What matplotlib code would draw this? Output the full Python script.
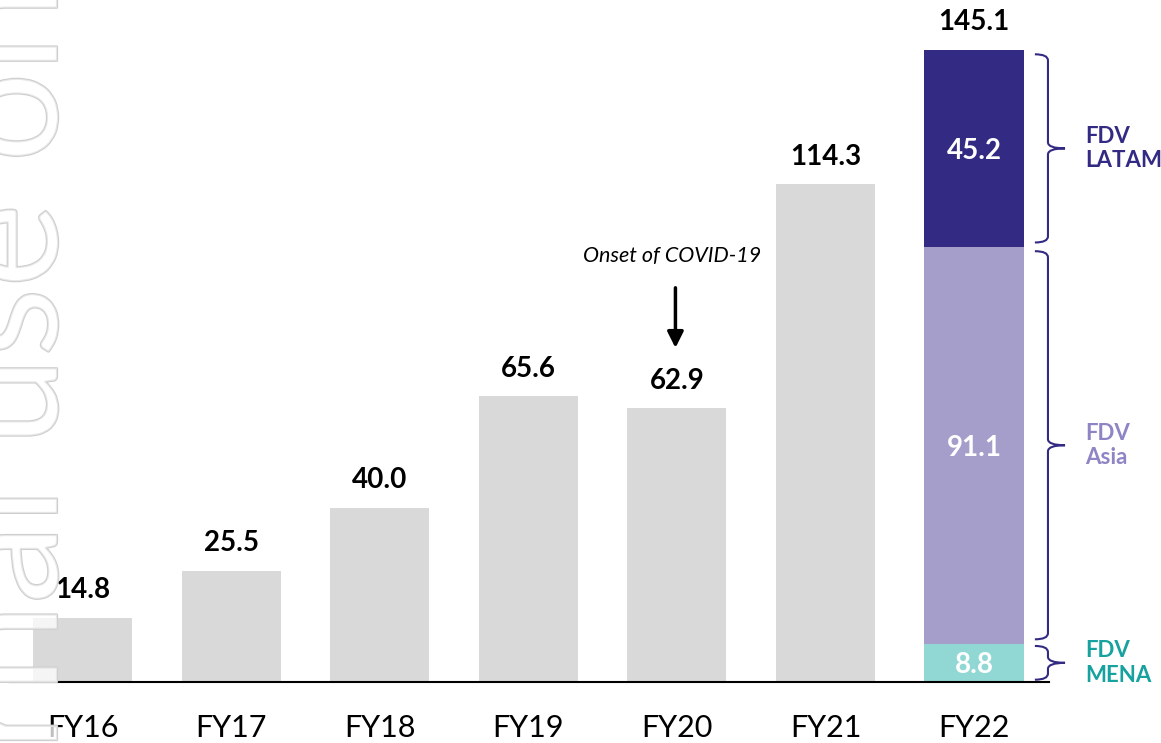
import matplotlib
matplotlib.use('Agg')
import matplotlib.pyplot as plt
import matplotlib.patheffects as pe
from matplotlib.path import Path
from matplotlib.patches import PathPatch

plt.rcParams['font.family'] = ['Lato', 'DejaVu Sans']

years = ['FY16', 'FY17', 'FY18', 'FY19', 'FY20', 'FY21', 'FY22']
totals = [14.8, 25.5, 40.0, 65.6, 62.9, 114.3, 145.1]

# FY22 split, bottom to top
seg_names = ['FDV\nMENA', 'FDV\nAsia', 'FDV\nLATAM']
seg_values = [8.8, 91.1, 45.2]
seg_colors = ['#91d8d4', '#a59ecb', '#332a83']
seg_label_colors = ['#17a2a0', '#8e85c4', '#332a83']

fig = plt.figure(figsize=(11.61, 7.43), dpi=100)
ax = fig.add_axes([10/1161, 61/743, 1039/1161, 682/743])
ax.set_xlim(-0.49, 6.505)
ax.set_ylim(0, 682/4.356)

x = list(range(len(years)))
w = 0.667
ax.bar(x[:-1], totals[:-1], width=w, color='#d9d9d9', zorder=2)

for i, t in enumerate(totals):
    ax.annotate(f'{t:.1f}', (x[i], t), xytext=(0, 14), textcoords='offset points',
                ha='center', va='baseline', fontsize=20, fontweight='bold', color='black')


def brace(y_t, y_b, color):
    x0, x1, x2 = 6.41, 6.498, 6.613
    y_m = (y_t + y_b) / 2
    r = min(1.4, (y_t - y_b) / 4)
    verts = [(x0, y_t), (x1, y_t), (x1, y_t - r),
             (x1, y_m + r),
             (x1, y_m), (x2, y_m),
             (x1, y_m), (x1, y_m - r),
             (x1, y_b + r),
             (x1, y_b), (x0, y_b)]
    codes = [Path.MOVETO, Path.CURVE3, Path.CURVE3, Path.LINETO, Path.CURVE3, Path.CURVE3,
             Path.CURVE3, Path.CURVE3, Path.LINETO, Path.CURVE3, Path.CURVE3]
    ax.add_patch(PathPatch(Path(verts, codes), facecolor='none', edgecolor=color,
                           lw=1.5, clip_on=False))


bottom = 0
for name, val, col, lcol in zip(seg_names, seg_values, seg_colors, seg_label_colors):
    ax.bar(x[-1], val, bottom=bottom, width=w, color=col, zorder=2)
    mid = bottom + val / 2
    ax.text(x[-1], mid, f'{val:.1f}', ha='center', va='center_baseline', color='white',
            fontsize=20, fontweight='bold', zorder=3)
    inset = min(1.0, val * 0.06)
    brace(bottom + val - inset, bottom + inset, '#332a83')
    ax.text(6.747, mid, name, ha='left', va='center', color=lcol, fontsize=16,
            fontweight='bold', linespacing=1.2, clip_on=False)
    bottom += val

# covid note over FY20
ax.annotate('', xy=(3.99, totals[4] + 13.8), xytext=(3.99, totals[4] + 27.6),
            arrowprops=dict(arrowstyle='-|>', lw=2.5, color='black', mutation_scale=24,
                            shrinkA=0, shrinkB=0))
ax.text(3.97, totals[4] + 34.9, 'Onset of COVID-19', ha='center', va='center',
        fontsize=15.5, style='italic', color='black')

ax.set_xticks(x, years)
ax.tick_params(axis='x', length=0, pad=23, labelsize=22)
ax.set_yticks([])
for s in ['top', 'left', 'right']:
    ax.spines[s].set_visible(False)
ax.spines['bottom'].set_linewidth(1.5)
ax.spines['bottom'].set_zorder(4)

# outlined watermark, mostly cut off at the left edge
fig.text(57/1161, -0.75, 'For internal use only', rotation=90, rotation_mode='anchor',
         ha='left', va='baseline', fontsize=115,
         color=(1, 1, 1, 0.5), zorder=10,
         path_effects=[pe.Stroke(linewidth=1.6, foreground='#cfcfcf'), pe.Normal()])

fig.savefig('out.png', dpi=100)
